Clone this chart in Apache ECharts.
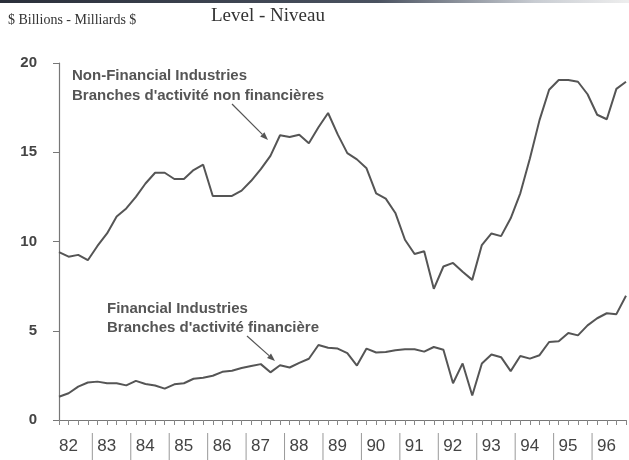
<!DOCTYPE html>
<html>
<head>
<meta charset="utf-8">
<script src="https://cdn.jsdelivr.net/npm/echarts@6/dist/echarts.min.js"></script>
<style>
  html, body { margin: 0; padding: 0; background: #fff; }
  #chart { width: 629px; height: 460px; }
</style>
</head>
<body>
<div id="chart"></div>
<script>
// quarters 1982Q1 .. 1996Q4
const years = ['82', '83', '84', '85', '86', '87', '88', '89', '90', '91', '92', '93', '94', '95', '96'];
const quarters = [];
years.forEach(y => { for (let q = 1; q <= 4; q++) quarters.push(y + 'Q' + q); });

// $ billions
const nonFinancial = [
    9.4, 9.15, 9.25, 8.95, 9.75, 10.45, 11.4, 11.85, 12.5, 13.25, 13.85, 13.85,
    13.5, 13.5, 14.0, 14.3, 12.55, 12.55, 12.55, 12.85, 13.4, 14.05, 14.8, 15.95,
    15.85, 15.98, 15.5, 16.4, 17.2, 16.0, 14.95, 14.6, 14.1, 12.7, 12.4, 11.6,
    10.1, 9.3, 9.45, 7.35, 8.6, 8.8, 8.3, 7.85, 9.8, 10.45, 10.3, 11.3,
    12.7, 14.65, 16.8, 18.5, 19.05, 19.05, 18.95, 18.25, 17.1, 16.85, 18.55, 18.95
];
const financial = [
    1.3, 1.5, 1.87, 2.1, 2.15, 2.06, 2.06, 1.94, 2.19, 2.02, 1.93, 1.76,
    2.0, 2.06, 2.31, 2.37, 2.48, 2.7, 2.76, 2.91, 3.02, 3.13, 2.67, 3.07,
    2.94, 3.2, 3.43, 4.2, 4.05, 4.0, 3.75, 3.05, 4.0, 3.78, 3.81, 3.91,
    3.96, 3.96, 3.83, 4.09, 3.94, 2.06, 3.17, 1.37, 3.17, 3.67, 3.52, 2.74,
    3.59, 3.44, 3.63, 4.37, 4.41, 4.87, 4.74, 5.3, 5.7, 5.98, 5.93, 6.96
];
const yTicks = [0, 5, 10, 15, 20];

const ink = '#555';
const chart = echarts.init(document.getElementById('chart'));

function arrow(x1, y1, x2, y2) {
    const a = Math.atan2(y2 - y1, x2 - x1), L = 8, W = 3;
    const bx = x2 - L * Math.cos(a), by = y2 - L * Math.sin(a);
    const px = -Math.sin(a) * W, py = Math.cos(a) * W;
    return [
        { type: 'line', shape: { x1: x1, y1: y1, x2: bx, y2: by }, style: { stroke: ink, lineWidth: 1.2 } },
        { type: 'polygon', shape: { points: [[x2, y2], [bx + px, by + py], [bx - px, by - py]] }, style: { fill: ink } }
    ];
}

const noteFont = 'bold 15px "Liberation Sans", Arial, sans-serif';

chart.setOption({
    animation: false,
    grid: { left: 59, right: 0, top: 63, bottom: 38 },
    xAxis: {
        type: 'category',
        data: quarters,
        boundaryGap: false,
        axisLine: { lineStyle: { color: '#777', width: 1.2 } },
        axisTick: { interval: 0, length: 5, lineStyle: { color: '#888' } },
        axisLabel: {
            interval: 0,
            align: 'left',
            margin: 13,
            color: '#444',
            fontSize: 17,
            fontFamily: '"Liberation Sans", Arial, sans-serif',
            formatter: (v, i) => {
                if (i === 0) return '{h|}' + years[0];
                if ((i + 1) % 4 === 0 && i < quarters.length - 1) {
                    return '{p|}{s|}{g|}' + years[(i + 1) / 4];
                }
                return '';
            },
            rich: {
                h: { width: 0, height: 27 },
                p: { width: 4, height: 27 },
                s: { width: 1, height: 27, backgroundColor: '#999' },
                g: { width: 4.5, height: 27 }
            }
        },
        splitLine: { show: false }
    },
    yAxis: {
        type: 'value',
        min: yTicks[0],
        max: yTicks[yTicks.length - 1],
        interval: 5,
        axisLine: { show: true, lineStyle: { color: '#777', width: 1.2 } },
        axisTick: { show: true, length: 6, lineStyle: { color: '#777' } },
        axisLabel: {
            margin: 22,
            color: '#444',
            fontSize: 15,
            fontWeight: 'bold',
            fontFamily: '"Liberation Sans", Arial, sans-serif'
        },
        splitLine: { show: false }
    },
    series: [
        {
            name: 'Non-Financial Industries',
            type: 'line',
            data: nonFinancial,
            symbol: 'none',
            lineStyle: { color: ink, width: 2 }
        },
        {
            name: 'Financial Industries',
            type: 'line',
            data: financial,
            symbol: 'none',
            lineStyle: { color: ink, width: 2 }
        }
    ],
    graphic: [
        {
            type: 'rect', shape: { x: 0, y: 0, width: 629, height: 3 },
            style: {
                fill: new echarts.graphic.LinearGradient(0, 0, 1, 0, [
                    { offset: 0, color: '#2a2f3a' },
                    { offset: 0.6, color: '#4a5260' },
                    { offset: 0.85, color: '#c8ccd2' },
                    { offset: 1, color: '#eee' }
                ])
            }
        },
        {
            type: 'text', left: 8, top: 13,
            style: { text: '$ Billions - Milliards $', font: '14px "Liberation Serif", "Times New Roman", serif', fill: '#333' }
        },
        {
            type: 'text', left: 211, top: 7,
            style: { text: 'Level - Niveau', font: '19px "Liberation Serif", "Times New Roman", serif', fill: '#333' }
        },
        {
            type: 'text', left: 72, top: 66,
            style: { text: 'Non-Financial Industries\nBranches d\'activité non financières', font: noteFont, fill: ink, lineHeight: 20 }
        },
        {
            type: 'text', left: 107, top: 299,
            style: { text: 'Financial Industries\nBranches d\'activité financière', font: noteFont, fill: ink, lineHeight: 19 }
        }
    ].concat(arrow(232, 104, 268, 140), arrow(247, 336, 275, 361))
});
</script>
</body>
</html>
